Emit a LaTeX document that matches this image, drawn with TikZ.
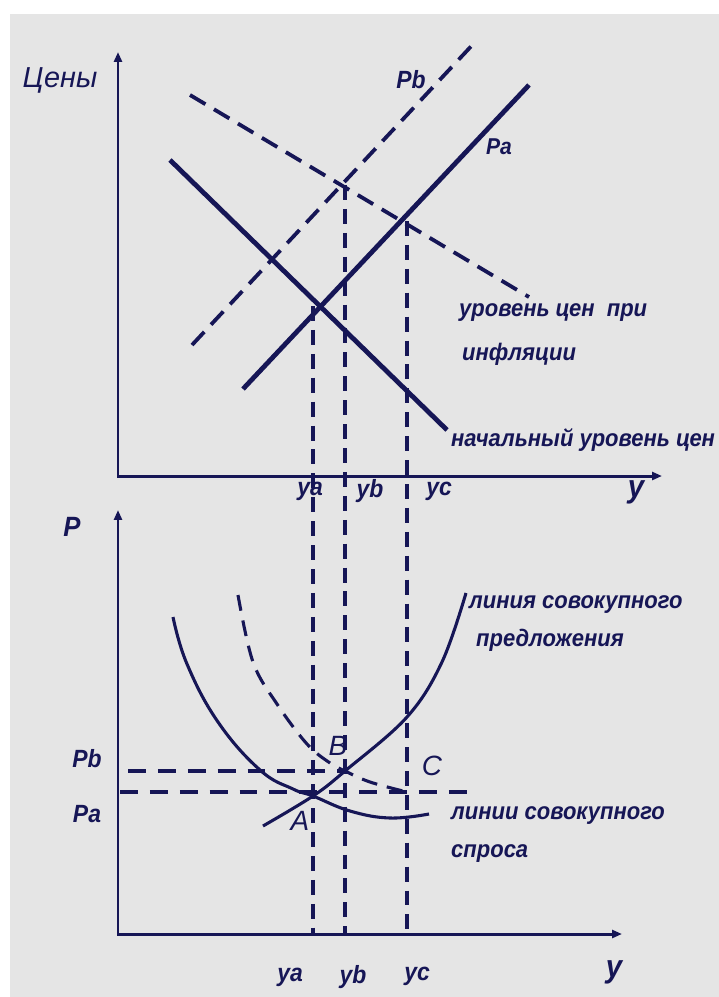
\documentclass[tikz,border=0pt]{standalone}
\usepackage{fontspec}
\usepackage{graphicx}
\setmainfont{Liberation Sans}
\usetikzlibrary{arrows.meta}
\definecolor{navy}{RGB}{22,22,86}
\definecolor{bg}{RGB}{229,229,229}
\newcommand\sq[1]{\scalebox{0.92}[1]{#1}}
\begin{document}
\begin{tikzpicture}[x=1bp,y=-1bp,
  axisline/.style={navy,line width=3pt,{Triangle[length=10pt,width=8pt]}-{Triangle[length=10pt,width=8pt]}},
  solidline/.style={navy,line width=4.8pt},
  dashline/.style={navy,line width=3.8pt,dash pattern=on 18pt off 10pt},
  vdash/.style={navy,line width=3.4pt,dash pattern=on 15pt off 9pt},
  hdash/.style={navy,line width=3.4pt,dash pattern=on 18pt off 12pt},
  curveline/.style={navy,line width=3.1pt},
  lbl/.style={text=navy,inner sep=0pt,font=\bfseries\itshape\fontsize{25}{25}\selectfont},
  biglbl/.style={text=navy,inner sep=0pt,font=\bfseries\itshape\fontsize{32}{32}\selectfont},
  pt/.style={text=navy,inner sep=0pt,font=\itshape\fontsize{28}{28}\selectfont},
  txt/.style={text=navy,anchor=west,inner sep=0pt,font=\bfseries\itshape\fontsize{24}{24}\selectfont}]
\useasboundingbox (0,0) rectangle (719,997);
\fill[white] (0,0) rectangle (719,997);
\fill[bg] (10,14) rectangle (719,997);

% ---------- top chart ----------
\coordinate (Y1) at (118,52);
\coordinate (O1) at (118,476);
\coordinate (X1) at (662,476);
\draw[axisline] (Y1) -- (O1) -- (X1);
\node[text=navy,inner sep=0pt,font=\itshape\fontsize{29}{29}\selectfont] (tceny) at (60,80) {Цены};

\coordinate (D1a) at (170,160); \coordinate (D1b) at (447,430);
\coordinate (S1a) at (243,389); \coordinate (S1b) at (529,85);
\coordinate (D2a) at (190,95);  \coordinate (D2b) at (529,297);
\coordinate (S2a) at (192,345); \coordinate (S2b) at (477,40);
\draw[dashline] (D2a) -- (D2b);
\draw[dashline] (S2a) -- (S2b);
\draw[solidline] (D1a) -- (D1b);
\draw[solidline] (S1a) -- (S1b);

\coordinate (Ea) at (313,306);
\coordinate (Eb) at (345,185);
\coordinate (Ec) at (407,221);

\node[lbl] (tPb) at (411,80) {\sq{Pb}};
\node[lbl,font=\bfseries\itshape\fontsize{23}{23}\selectfont] (tPa) at (499,147) {\sq{Pa}};
\node[txt] (tinf1) at (459,313) {\sq{уровень цен\ \ при}};
\node[txt] (tinf2) at (462,354) {\sq{инфляции}};
\node[txt] (tnach) at (451,440) {\sq{начальный уровень цен}};

\node[lbl] (tya) at (310,491) {\sq{ya}};
\node[lbl] (tyb) at (370,491) {\sq{yb}};
\node[lbl] (tyc) at (439,491) {\sq{yc}};
\node[biglbl] (ty1) at (636,492) {\sq{y}};

% ---------- bottom chart ----------
\coordinate (Y2) at (118,510);
\coordinate (O2) at (118,934);
\coordinate (X2) at (622,934);
\draw[axisline] (Y2) -- (O2) -- (X2);

\coordinate (A) at (313,796);
\coordinate (B) at (345,771);
\coordinate (C) at (407,792);
\coordinate (PbL) at (128,771);
\coordinate (PaL) at (120,792);
\coordinate (PaR) at (467,792);

% vertical projections
\draw[vdash] (Ea) -- (Ea |- O2);
\draw[vdash] (Eb) -- (Eb |- O2);
\draw[vdash] (Ec) -- (Ec |- O2);

% horizontal projections
\draw[hdash] (PbL) -- (B);
\draw[hdash] (PaL) -- (PaR);

% shifted demand (dashed)
\draw[curveline,dash pattern=on 16pt off 10pt] plot[smooth,tension=0.6] coordinates
  {(238,595) (253,662) (277,704) (307,744) (330,763) (345,771) (370,782) (407,792)};
% aggregate demand
\draw[curveline] plot[smooth,tension=0.7] coordinates
  {(173,617) (187,664) (218,722) (260,770) (293,789) (313,796) (350,811) (390,818) (429,814)};
% aggregate supply
\draw[curveline] plot[smooth,tension=0.6] coordinates
  {(263,826) (313,796) (345,771) (407,717) (442,662) (466,593)};

\node[lbl,font=\bfseries\itshape\fontsize{28}{28}\selectfont] (tP) at (72,527) {\sq{P}};
\node[lbl] (bPb) at (87,759) {\sq{Pb}};
\node[lbl] (bPa) at (87,814) {\sq{Pa}};
\node[pt] (tA) at (300,821) {A};
\node[pt] (tB) at (338,746) {B};
\node[pt] (tC) at (432,766) {C};

\node[txt] (ts1) at (469,605) {\sq{линия совокупного}};
\node[txt] (ts2) at (476,640) {\sq{предложения}};
\node[txt] (td1) at (451,816) {\sq{линии совокупного}};
\node[txt] (td2) at (451,854) {\sq{спроса}};

\node[lbl] (bya) at (290,977) {\sq{ya}};
\node[lbl] (byb) at (353,977) {\sq{yb}};
\node[lbl] (byc) at (417,976) {\sq{yc}};
\node[biglbl] (by) at (614,972) {\sq{y}};
\end{tikzpicture}
\end{document}
